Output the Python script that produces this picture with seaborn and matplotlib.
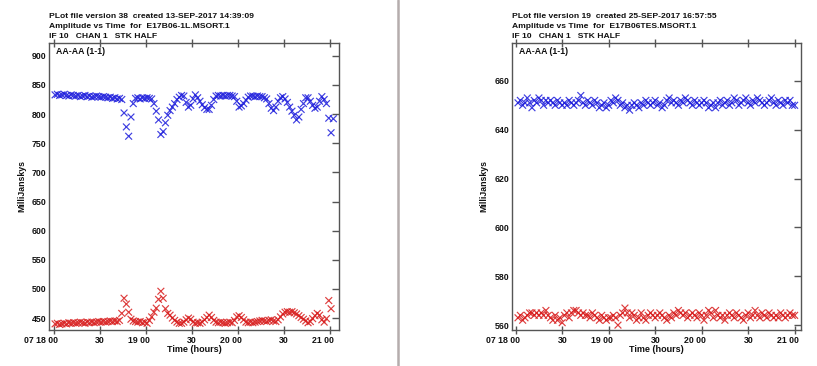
# Amplitude vs time, two AIPS-style PLot panels
import numpy as np
import pandas as pd
import matplotlib
matplotlib.use("Agg")
import matplotlib.pyplot as plt
import matplotlib.transforms as mtrans
import seaborn as sns

# ---- data ----
left_t0, left_step = 0.7, 1.5      # minutes after 18:00
right_t0, right_step = 1.3, 1.5

left_blue = [833, 834, 832, 833, 834, 832, 831, 833, 832, 831,
             832, 830, 831, 832, 830, 831, 829, 830, 831, 830,
             829, 830, 829, 828, 829, 827, 828, 826, 827, 825,
             802, 778, 762, 795, 818, 827, 828, 826, 828, 827,
             828, 827, 826, 818, 805, 790, 765, 770, 785, 798,
             806, 812, 818, 825, 829, 832, 831, 820, 812, 815,
             826, 833, 828, 822, 816, 811, 808, 808, 815, 825,
             831, 832, 831, 832, 831, 832, 832, 831, 830, 822,
             812, 814, 818, 824, 829, 831, 831, 830, 831, 830,
             830, 828, 826, 818, 810, 806, 812, 822, 828, 830,
             826, 820, 812, 805, 798, 790, 795, 808, 818, 828,
             828, 822, 815, 810, 812, 822, 830, 825, 818, 793,
             768, 792]

left_red = [440, 441, 439, 440, 441, 440, 442, 441, 442, 441,
            442, 443, 442, 441, 443, 442, 443, 442, 443, 444,
            443, 444, 443, 444, 445, 444, 445, 444, 446, 458,
            484, 474, 460, 448, 445, 444, 443, 444, 442, 443,
            441, 446, 452, 460, 467, 482, 496, 484, 466, 458,
            455, 450, 446, 443, 441, 441, 443, 447, 450, 448,
            443, 441, 442, 441, 443, 447, 451, 455, 451, 446,
            443, 442, 443, 442, 441, 442, 443, 442, 446, 452,
            454, 451, 447, 443, 442, 443, 442, 443, 444, 445,
            446, 445, 444, 446, 447, 445, 444, 447, 452, 457,
            460, 461, 460, 461, 459, 457, 454, 451, 448, 445,
            442, 444, 449, 454, 458, 455, 447, 443, 449, 480,
            466]

right_blue = [651, 652, 650, 651, 653, 651, 649, 652, 651, 653,
              652, 650, 652, 651, 652, 651, 650, 652, 651, 650,
              651, 650, 652, 651, 650, 651, 652, 654, 651, 650,
              652, 651, 650, 652, 651, 649, 650, 651, 649, 650,
              652, 651, 653, 652, 650, 651, 649, 650, 648, 650,
              651, 650, 649, 651, 650, 652, 651, 650, 651, 652,
              650, 651, 649, 650, 652, 653, 651, 652, 651, 650,
              652, 651, 653, 652, 651, 650, 652, 651, 650, 651,
              652, 651, 649, 650, 651, 649, 651, 652, 650, 651,
              652, 650, 651, 653, 652, 650, 651, 652, 653, 651,
              650, 652, 651, 653, 652, 651, 650, 651, 652, 653,
              651, 650, 652, 651, 650, 652, 651, 652, 650, 650]

right_red = [563, 564, 562, 563, 564, 565, 565, 564, 565, 564,
             565, 564, 566, 564, 563, 562, 564, 562, 563, 561,
             564, 565, 563, 565, 566, 566, 565, 564, 565, 564,
             564, 563, 565, 564, 563, 562, 564, 563, 562, 563,
             563, 564, 563, 560, 564, 565, 567, 565, 563, 565,
             564, 562, 563, 565, 563, 562, 564, 565, 564, 563,
             564, 565, 564, 563, 562, 564, 563, 565, 564, 566,
             565, 564, 565, 563, 564, 565, 564, 563, 565, 564,
             562, 564, 566, 565, 563, 566, 564, 563, 564, 562,
             564, 565, 564, 563, 565, 564, 563, 562, 564, 565,
             563, 564, 566, 564, 563, 565, 564, 563, 565, 564,
             563, 564, 563, 565, 564, 563, 564, 565, 564, 564]

x_ticks = [18.0, 18.5, 19.0, 19.5, 20.0, 20.5, 21.0]
x_ticklabels = ["07 18 00", "30", "19 00", "30", "20 00", "30", "21 00"]
left_yticks = [450, 500, 550, 600, 650, 700, 750, 800, 850, 900]
right_yticks = [560, 580, 600, 620, 640, 660]

left_titles = ["PLot file version 38  created 13-SEP-2017 14:39:09",
               "Amplitude vs Time  for  E17B06-1L.MSORT.1",
               "IF 10   CHAN 1   STK HALF"]
right_titles = ["PLot file version 19  created 25-SEP-2017 16:57:55",
                "Amplitude vs Time  for  E17B06TES.MSORT.1",
                "IF 10   CHAN 1   STK HALF"]


def to_frame(blue, red, t0, step):
    tb = 18 + (t0 + step * np.arange(len(blue))) / 60
    tr = 18 + (t0 + step * np.arange(len(red))) / 60
    return pd.concat([
        pd.DataFrame({"time": tb, "amp": blue, "pol": "blue"}),
        pd.DataFrame({"time": tr, "amp": red, "pol": "red"}),
    ], ignore_index=True)


sns.set_style("white")
plt.rcParams["font.family"] = ["Liberation Sans", "DejaVu Sans"]
plt.rcParams["font.weight"] = "bold"

W, H = 817, 366
fig = plt.figure(figsize=(W / 100, H / 100), dpi=100)

palette = {"blue": "#1c1cdc", "red": "#d81c1c"}
ink = "#111111"
spine_c = "#555555"

panels = [
    dict(left=49, right=339, blue=left_blue, red=left_red, t0=left_t0, step=left_step,
         xlim=(17.9457, 21.098), ylim=(429.5, 922), yticks=left_yticks, titles=left_titles),
    dict(left=512, right=801, blue=right_blue, red=right_red, t0=right_t0, step=right_step,
         xlim=(17.957, 21.065), ylim=(558, 675.5), yticks=right_yticks, titles=right_titles),
]

top_px, bot_px = 43, 330
for p in panels:
    ax = fig.add_axes([p["left"] / W, 1 - bot_px / H,
                       (p["right"] - p["left"]) / W, (bot_px - top_px) / H])
    df = to_frame(p["blue"], p["red"], p["t0"], p["step"])
    sns.scatterplot(data=df, x="time", y="amp", hue="pol", palette=palette,
                    marker="x", s=24, linewidth=0.85, alpha=0.85, legend=False, ax=ax)
    ax.set_xlim(*p["xlim"])
    ax.set_ylim(*p["ylim"])
    ax.set_xticks(x_ticks)
    ax.set_xticklabels(x_ticklabels)
    ax.set_yticks(p["yticks"])
    ax.tick_params(axis="both", labelsize=6.3, colors=spine_c, labelcolor=ink,
                   direction="in", length=5, width=1,
                   top=True, right=True, pad=2)
    ax.tick_params(axis="x", bottom=True, direction="inout", length=6, pad=1)
    # hour labels: the minutes field sits under the tick
    for lab in ax.get_xticklabels():
        if " " in lab.get_text():
            lab.set_ha("right")
            lab.set_transform(lab.get_transform() +
                              mtrans.ScaledTranslation(4 / 100, 0, fig.dpi_scale_trans))
    for s in ax.spines.values():
        s.set_color(spine_c)
        s.set_linewidth(1)
    ax.set_xlabel("Time (hours)", fontsize=6.5, fontweight="bold", color=ink, labelpad=0)
    ax.set_ylabel("MilliJanskys", fontsize=6.3, fontweight="bold", color=ink, labelpad=4)
    ax.text(0.025, 0.985, "AA-AA (1-1)", transform=ax.transAxes, ha="left", va="top",
            fontsize=6.3, fontweight="bold", color=ink)
    for i, line in enumerate(p["titles"]):
        fig.text(p["left"] / W, 1 - (17 + 10 * i) / H, line, ha="left", va="center",
                 fontsize=6.1, fontweight="bold", color=ink)

# divider between the two plot files
fig.add_artist(plt.Line2D([398 / W, 398 / W], [0, 1], color="#b5adad", linewidth=1.8))

fig.savefig("out.png", dpi=100)
